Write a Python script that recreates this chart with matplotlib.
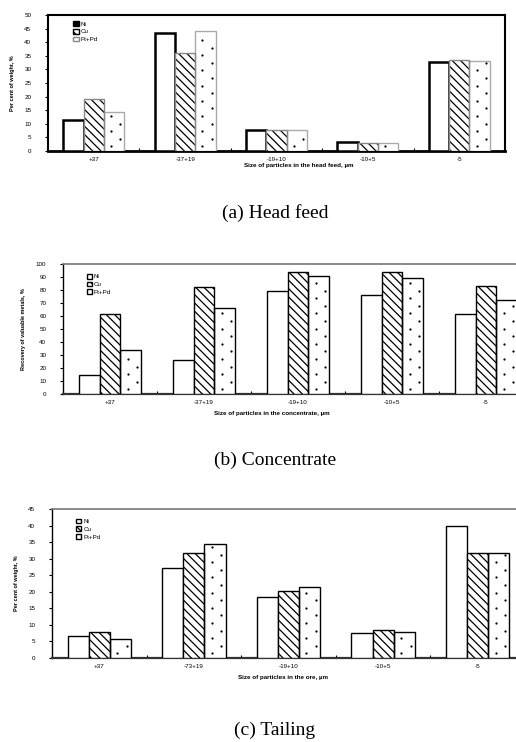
import numpy as np
import matplotlib
matplotlib.use('Agg')
import matplotlib.pyplot as plt
from matplotlib.patches import Patch

# data
series = ['Ni', 'Cu', 'Pt+Pd']
cats_feed = ['+37', '-37+19', '-19+10', '-10+5', '-5']
cats_conc = ['+37', '-37+19', '-19+10', '-10+5', '-5']
cats_tail = ['+37', '-73+19', '-19+10', '-10+5', '-5']

feed_ni = [11.4, 43.3, 7.7, 3.4, 32.6]
feed_cu = [19.3, 35.9, 7.6, 3.1, 33.6]
feed_pt = [14.2, 44.1, 7.6, 2.8, 33.1]

conc_ni = [15.0, 25.8, 79.3, 76.3, 61.9]
conc_cu = [61.5, 82.0, 93.8, 93.5, 83.4]
conc_pt = [33.8, 66.4, 90.6, 89.6, 72.0]

tail_ni = [6.5, 27.3, 18.4, 7.7, 39.9]
tail_cu = [8.0, 31.7, 20.2, 8.5, 31.7]
tail_pt = [5.7, 34.4, 21.4, 7.9, 31.7]

W, H = 516, 742
fig = plt.figure(figsize=(W / 100, H / 100), dpi=100)
plt.rcParams['font.family'] = ['Liberation Sans', 'DejaVu Sans']
plt.rcParams['hatch.linewidth'] = 0.9


def px_axes(left, right, top, bottom):
    return fig.add_axes([left / W, 1 - bottom / H, (right - left) / W, (bottom - top) / H])


def dot_fill(ax, xc, bw, heights, step):
    # sparse staggered dot pattern inside the Pt+Pd bars
    for xi, h in zip(xc, heights):
        ys = np.arange(step * 0.6, h - step * 0.2, step)
        xs = np.where(np.arange(len(ys)) % 2 == 0, xi - 0.15 * bw, xi + 0.3 * bw)
        ax.scatter(xs, ys, s=2.6, color='black', linewidths=0, zorder=5)


def draw_panel(ax, cats, vals, ymax, ystep, ylabel, style, leg_xy, ax_px):
    x = np.arange(len(cats))
    bw = 0.223
    ni, cu, pt = vals
    if style == 'a':
        ni_edge, ni_lw = 'black', 1.8
        cu_edge, pt_edge = '#888888', '#aaaaaa'
    else:
        ni_edge, ni_lw = 'black', 1.0
        cu_edge, pt_edge = 'black', 'black'
    ax.bar(x - bw, ni, bw, color='white', edgecolor=ni_edge, linewidth=ni_lw, zorder=3)
    ax.bar(x, cu, bw, color='white', edgecolor='black', hatch='\\\\\\\\', linewidth=0, zorder=3)
    ax.bar(x, cu, bw, fill=False, edgecolor=cu_edge, linewidth=1.0, zorder=4)
    ax.bar(x + bw, pt, bw, color='white', edgecolor=pt_edge, linewidth=1.0, zorder=3)
    dot_fill(ax, x + bw, bw, pt, 7.6 * ymax / ax_px)

    ax.set_xlim(-0.5, len(cats) - 0.5)
    ax.set_ylim(0, ymax)
    ax.set_yticks(np.arange(0, ymax + 0.1, ystep))
    ax.set_xticks(x)
    ax.set_xticklabels(cats)
    ax.set_xticks(np.arange(0.5, len(cats) - 0.5), minor=True)
    ax.tick_params(axis='x', which='major', length=0, labelsize=4.5, pad=4)
    ax.tick_params(axis='x', which='minor', length=2, direction='in', width=0.8)
    ax.tick_params(axis='y', length=2, width=0.8, labelsize=4.5, pad=10)
    ax.set_ylabel(ylabel, fontsize=4, fontweight='bold', labelpad=7)

    if style == 'a':
        for s in ax.spines.values():
            s.set_linewidth(1.5)
        ax.spines['bottom'].set_linewidth(2.0)
        handles = [Patch(facecolor='black', edgecolor='black'),
                   Patch(facecolor='white', edgecolor='black', hatch='\\\\\\\\'),
                   Patch(facecolor='white', edgecolor='#888888')]
    else:
        ax.spines['right'].set_visible(False)
        ax.spines['top'].set_color('#777777')
        ax.spines['top'].set_linewidth(1.2)
        ax.spines['left'].set_linewidth(1.0)
        ax.spines['bottom'].set_linewidth(1.6)
        ax.spines['bottom'].set_color('#333333')
        handles = [Patch(facecolor='white', edgecolor='black'),
                   Patch(facecolor='white', edgecolor='black', hatch='\\\\\\\\'),
                   Patch(facecolor='white', edgecolor='black')]
    ax.legend(handles, series, loc='upper left', bbox_to_anchor=leg_xy, frameon=False,
              fontsize=4.5, handlelength=0.9, handleheight=0.8, handletextpad=0.3,
              labelspacing=0.35, borderpad=0, borderaxespad=0)


ax1 = px_axes(48, 505, 15, 151)
draw_panel(ax1, cats_feed, [feed_ni, feed_cu, feed_pt], 50, 5, 'Per cent of weight, %', 'a',
           (0.055, 0.955), 136)
fig.text(299 / W, 1 - 166 / H, 'Size of particles in the head feed, \u00b5m', fontsize=4.5,
         fontweight='bold', ha='center', va='center')
fig.text(275 / W, 1 - 213 / H, '(a) Head feed', fontsize=14, family='Liberation Serif',
         ha='center', va='center')

ax2 = px_axes(63, 533, 264, 394)
draw_panel(ax2, cats_conc, [conc_ni, conc_cu, conc_pt], 100, 10, 'Recovery of valuable metals, %', 'b',
           (0.05, 0.925), 130)
fig.text(272 / W, 1 - 413 / H, 'Size of particles in the concentrate, \u00b5m', fontsize=4.5,
         fontweight='bold', ha='center', va='center')
fig.text(275 / W, 1 - 460 / H, '(b) Concentrate', fontsize=14, family='Liberation Serif',
         ha='center', va='center')

ax3 = px_axes(52, 525, 509, 658)
draw_panel(ax3, cats_tail, [tail_ni, tail_cu, tail_pt], 45, 5, 'Per cent of weight, %', 'c',
           (0.05, 0.935), 149)
fig.text(283 / W, 1 - 678 / H, 'Size of particles in the ore, \u00b5m', fontsize=4.5,
         fontweight='bold', ha='center', va='center')
fig.text(275 / W, 1 - 730 / H, '(c) Tailing', fontsize=14, family='Liberation Serif',
         ha='center', va='center')

fig.savefig('out.png', dpi=100)
